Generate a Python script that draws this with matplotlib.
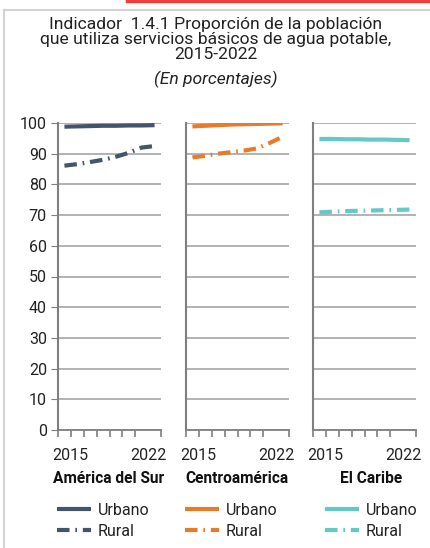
import numpy as np
import matplotlib
matplotlib.use("Agg")
import matplotlib.pyplot as plt
from matplotlib.lines import Line2D

plt.rcParams['font.family'] = ['Roboto', 'DejaVu Sans']

years = [2015, 2016, 2017, 2018, 2019, 2020, 2021, 2022]
regions = ["América del Sur", "Centroamérica", "El Caribe"]
colors = ["#44546A", "#E87B2A", "#62C9C4"]

urbano_sur = [98.8, 98.9, 99.0, 99.1, 99.1, 99.2, 99.2, 99.3]
rural_sur = [86.1, 86.6, 87.3, 88.0, 89.0, 90.3, 92.0, 92.5]
urbano_centro = [98.9, 99.1, 99.3, 99.5, 99.6, 99.7, 99.8, 99.9]
rural_centro = [88.8, 89.3, 90.0, 90.5, 91.0, 91.7, 93.5, 95.5]
urbano_caribe = [94.8, 94.8, 94.7, 94.7, 94.6, 94.6, 94.5, 94.4]
rural_caribe = [70.9, 71.1, 71.3, 71.4, 71.5, 71.6, 71.7, 71.8]

urbanos = [urbano_sur, urbano_centro, urbano_caribe]
rurales = [rural_sur, rural_centro, rural_caribe]

W, H = 430, 548
fig = plt.figure(figsize=(W / 100, H / 100), dpi=100)

# title
fig.text(216 / W, 1 - 17 / H,
         "Indicador  1.4.1 Proporción de la población\n"
         "que utiliza servicios básicos de agua potable,\n2015-2022",
         ha='center', va='top', fontsize=12.6, color='#222222', linespacing=1.0)
fig.text(216 / W, 1 - 84 / H, "(En porcentajes)", ha='center', va='baseline',
         fontsize=12.6, style='italic', color='#222222')

# frame lines and red bar
fig.add_artist(Line2D([4 / W, 4 / W], [0, 1 - 10 / H], transform=fig.transFigure,
                      color='#D4D4D4', lw=1.5))
fig.add_artist(Line2D([4 / W, 1], [1 - 10 / H, 1 - 10 / H], transform=fig.transFigure,
                      color='#D4D4D4', lw=1.5))
fig.add_artist(Line2D([127 / W, 1], [1 - 1 / H, 1 - 1 / H], transform=fig.transFigure,
                      color='#E8403C', lw=2.5))

lefts = [58, 186, 313]
ax_w = 103
y0, y100 = 430, 123
x = np.arange(len(years))
dash = (3, 1.4, 0.4, 1.4)
leg_x = [57, 185, 325]
label_x = [0.495, 0.497, 0.563]

for i in range(3):
    ax = fig.add_axes([lefts[i] / W, (H - y0) / H, ax_w / W, (y0 - y100) / H])
    ax.set_xlim(-0.5, 7.5)
    ax.set_ylim(0, 100)
    ax.set_yticks(range(0, 101, 10))
    ax.yaxis.grid(True, color='#A6A6A6', lw=1.2)
    ax.set_axisbelow(True)
    for s in ['top', 'right']:
        ax.spines[s].set_visible(False)
    ax.spines['left'].set_color('#7F7F7F')
    ax.spines['left'].set_linewidth(1.5)
    ax.spines['bottom'].set_color('#7F7F7F')
    ax.spines['bottom'].set_linewidth(1.3)
    if i == 0:
        ax.tick_params(axis='y', length=5, color='#7F7F7F', labelsize=11.5,
                       labelcolor='#222222', pad=3)
    else:
        ax.tick_params(axis='y', length=0, labelleft=False)
    ax.set_xticks(np.arange(-0.5, 8, 1), minor=True)
    ax.set_xticks([0.43, 6.5], [str(years[0]), str(years[-1])])
    ax.tick_params(axis='x', which='minor', length=5, color='#7F7F7F', width=1.2)
    ax.tick_params(axis='x', which='major', length=0, labelsize=11.5,
                   labelcolor='#222222', pad=13)
    ax.set_xlabel(regions[i], fontsize=11.2, fontweight='bold', color='#111111')
    ax.xaxis.set_label_coords(label_x[i], -0.135)

    l1, = ax.plot(x, urbanos[i], color=colors[i], lw=3, solid_capstyle='butt')
    l2, = ax.plot(x, rurales[i], color=colors[i], lw=3, dashes=dash)
    fig.legend([l1, l2], ["Urbano", "Rural"], loc='upper left',
               bbox_to_anchor=(leg_x[i] / W, 1 - 503 / H), frameon=False,
               borderpad=0, borderaxespad=0, fontsize=11.5, handlelength=2.1,
               handletextpad=0.45, labelspacing=0.35, labelcolor='#222222')

fig.savefig("out.png", dpi=100)
